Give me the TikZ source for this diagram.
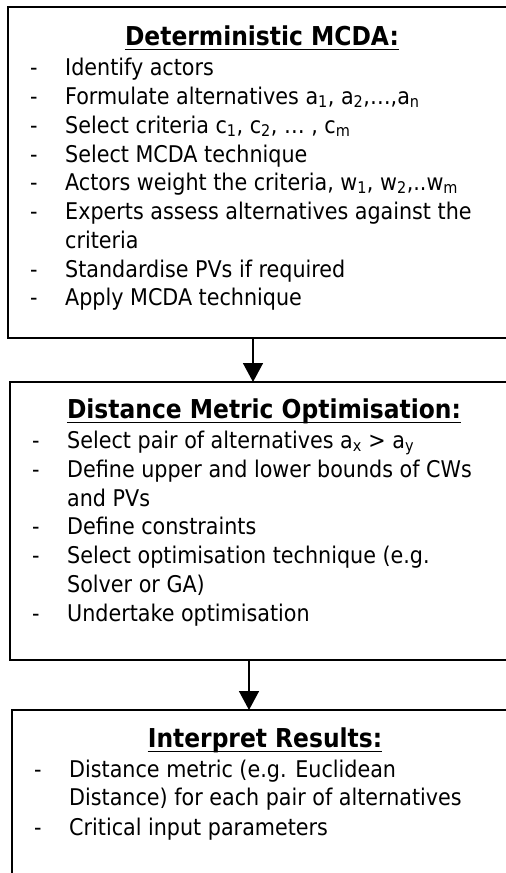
\documentclass[tikz,border=0pt]{standalone}
\usepackage{fontspec}
\IfFontExistsTF{DejaVu Sans Condensed}
  {\setmainfont{DejaVu Sans Condensed}}
  {\setmainfont[FakeStretch=0.9]{DejaVu Sans}}
\usetikzlibrary{arrows.meta}
\newcommand\bodysize{\fontsize{23}{28.8}\selectfont}
\newcommand\headsize{\fontsize{26}{31}\selectfont\bfseries}

\begin{document}
\begin{tikzpicture}[x=1pt, y=-1pt,
  stage/.style={rectangle, inner sep=0pt, outer sep=0pt, anchor=north west},
  frame/.style={line width=1.8pt, line cap=rect},
  item/.style={anchor=base west, inner sep=0pt, font=\bodysize},
  head/.style={anchor=base, inner sep=0pt, font=\headsize},
  headrule/.style={line width=1.6pt},
  flow/.style={line width=1.5pt, -{Triangle[width=20pt,length=19pt]}}]
\useasboundingbox (0,0) rectangle (506,873);
\clip (0,0) rectangle (506,873);

% the three stages (they run on past the right edge; the last one past the bottom)
\node[stage, minimum width=530pt, minimum height=331pt] (mcda) at (8,7) {};
\node[stage, minimum width=530pt, minimum height=278pt] (dmo) at (10,382) {};
\node[stage, minimum width=530pt, minimum height=200pt] (res) at (12,710) {};
\draw[frame] (mcda.north east) -- (mcda.north west) -- (mcda.south west) -- (mcda.south east);
\draw[frame] (dmo.north east) -- (dmo.north west) -- (dmo.south west) -- (dmo.south east);
\draw[frame] (res.north east) -- (res.north west) -- (res.south west);

% flow between the stages
\coordinate (ax1) at (253,0);
\coordinate (ax2) at (249,0);
\draw[flow] (mcda.south west -| ax1) -- (dmo.north west -| ax1);
\draw[flow] (dmo.south west -| ax2) -- (res.north west -| ax2);

% headings
\node[head] (h1) at (262,45) {Deterministic MCDA:};
\node[head] (h2) at (264,418) {Distance Metric Optimisation:};
\node[head] (h3) at (265,747) {Interpret Results:};
\foreach \h in {h1,h2,h3}
  \draw[headrule] ([yshift=-4.3pt]\h.base west) -- ([yshift=-4.3pt]\h.base east);

% stage 1
\foreach \yy [count=\k] in {75,104,133,162,190,219,277,305}
  \node[item] (d1\k) at (30,\yy) {-};
\foreach \yy/\txt [count=\k] in {
  75/{Identify actors},
  104/{Formulate alternatives a\textsubscript{1}, a\textsubscript{2},…,a\textsubscript{n}},
  133/{Select criteria c\textsubscript{1}, c\textsubscript{2}, … , c\textsubscript{m}},
  162/{Select MCDA technique},
  190/{Actors weight the criteria, w\textsubscript{1}, w\textsubscript{2},..w\textsubscript{m}},
  219/{Experts assess alternatives against the},
  248/{criteria},
  277/{Standardise PVs if required},
  305/{Apply MCDA technique}}
  \node[item] (t1\k) at (65,\yy) {\txt};

% stage 2
\foreach \yy [count=\k] in {448,477,534,563,621}
  \node[item] (d2\k) at (32,\yy) {-};
\foreach \yy/\txt [count=\k] in {
  448/{Select pair of alternatives a\textsubscript{x} > a\textsubscript{y}},
  477/{Define upper and lower bounds of CWs},
  506/{and PVs},
  534/{Define constraints},
  563/{Select optimisation technique (e.g.},
  592/{Solver or GA)},
  621/{Undertake optimisation}}
  \node[item] (t2\k) at (67,\yy) {\txt};

% stage 3
\foreach \yy [count=\k] in {777,835}
  \node[item] (d3\k) at (34,\yy) {-};
\foreach \yy/\txt [count=\k] in {
  777/{Distance metric (e.g. Euclidean},
  805/{Distance) for each pair of alternatives},
  835/{Critical input parameters}}
  \node[item] (t3\k) at (69,\yy) {\txt};
\end{tikzpicture}
\end{document}
